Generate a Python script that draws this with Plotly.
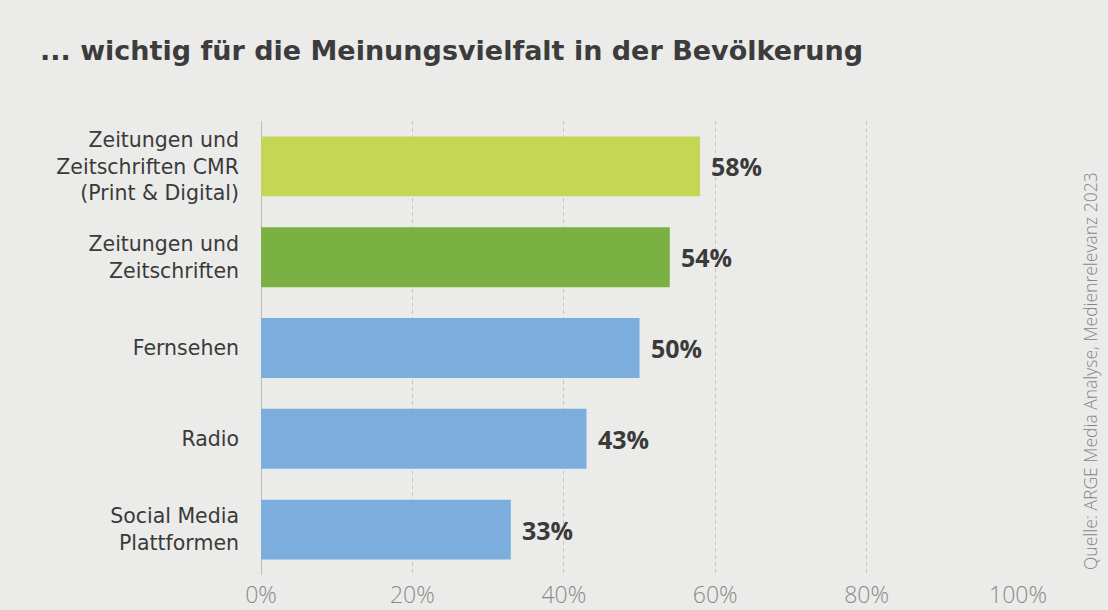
import plotly.graph_objects as go

categories = [
    "Zeitungen und<br>Zeitschriften CMR<br>(Print & Digital)",
    "Zeitungen und<br>Zeitschriften",
    "Fernsehen",
    "Radio",
    "Social Media<br>Plattformen",
]
values = [58, 54, 50, 43, 33]
bar_colors = ["#C5D655", "#7BB043", "#7BAEDD", "#7BAEDD", "#7BAEDD"]
tick_vals = [0, 20, 40, 60, 80, 100]
tick_text = ["0%", "20%", "40%", "60%", "80%", "100%"]

title_text = "... wichtig für die Meinungsvielfalt in der Bevölkerung"
source_text = "Quelle: ARGE Media Analyse, Medienrelevanz 2023"

BG = "#EBEBE9"
FONT = "Open Sans"
WIDE = "DejaVu Sans"

L, R, T, B = 261, 90, 121, 35
PW, PH = 1108 - L - R, 610 - T - B

fig = go.Figure()
fig.add_trace(go.Bar(
    x=values, y=categories, orientation="h",
    marker=dict(color=bar_colors, line=dict(width=0)),
    width=0.66, hoverinfo="skip",
))

for v, c in zip(values, categories):
    fig.add_annotation(
        x=v, y=c, xref="x", yref="y", text=f"{v}%", showarrow=False,
        xanchor="left", yanchor="middle", xshift=9,
        font=dict(family=FONT, size=25, color="#3A3A3A", weight=700),
    )

fig.add_annotation(
    x=(38 - L) / PW, y=(610 - B - 50) / PH, xref="paper", yref="paper",
    text=title_text, showarrow=False, xanchor="left", yanchor="middle",
    font=dict(family=WIDE, size=27, color="#3C3C3C", weight=700),
)
fig.add_annotation(
    x=(1090 - L) / PW, y=(610 - B - 371) / PH, xref="paper", yref="paper",
    text=source_text, showarrow=False, textangle=-90,
    xanchor="center", yanchor="middle",
    font=dict(family=FONT, size=17.5, color="#858585", weight=300),
)

fig.update_layout(
    width=1108, height=610,
    margin=dict(l=L, r=R, t=T, b=B, autoexpand=False),
    paper_bgcolor=BG, plot_bgcolor=BG,
    showlegend=False,
    font=dict(family=FONT),
)
fig.update_xaxes(
    range=[0, 100], tickvals=tick_vals, ticktext=tick_text,
    showgrid=True, gridcolor="#C6C6C4", gridwidth=1, griddash="4px,3px",
    zeroline=True, zerolinecolor="#BDBDBB", zerolinewidth=1,
    showline=False, ticks="", ticklabelstandoff=4,
    tickfont=dict(family=FONT, size=23, color="#8A8A8A", weight=300),
    fixedrange=True,
)
fig.update_yaxes(
    autorange="reversed", showgrid=False, zeroline=False, showline=False,
    ticks="", ticklabelstandoff=21,
    tickfont=dict(family=WIDE, size=20.5, color="#3A3A3A"),
    fixedrange=True,
)

fig.write_html(
    "out.html",
    config={"displayModeBar": False},
    post_script="document.body.style.margin='0';document.body.style.background='#EBEBE9';",
)
